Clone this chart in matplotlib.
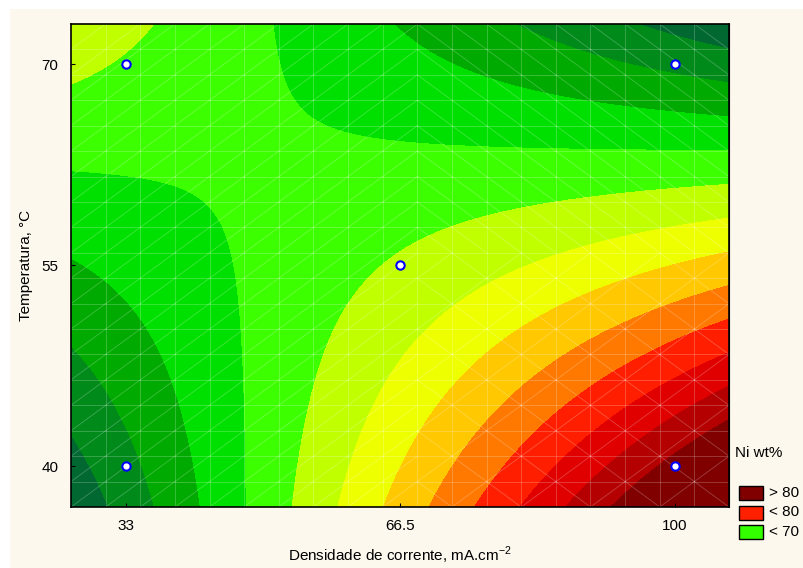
import numpy as np
import matplotlib
matplotlib.use("Agg")
import matplotlib.pyplot as plt
from matplotlib.colors import ListedColormap, BoundaryNorm
from matplotlib.patches import Rectangle

plt.rcParams["font.family"] = ["Liberation Sans", "DejaVu Sans"]
plt.rcParams["mathtext.fontset"] = "custom"
plt.rcParams["mathtext.rm"] = "Liberation Sans"

# design points (current density, temperature)
current_density = [33, 33, 66.5, 100, 100]
temperature = [40, 70, 55, 40, 70]

# fitted response surface for Ni wt%, coded units u=(x-66.5)/33.5, v=(y-55)/15
# terms: 1, u, v, uv, u^2, v^2
surface_coef = [66.25, 3.733, -3.688, -6.895, 0.049, 0.039]

levels = [58, 60, 62, 64, 66, 68, 70, 72, 74, 76, 78, 80]
band_colors = ["#006830", "#008a1a", "#00aa00", "#00e000", "#3cff00", "#c0ff00",
               "#eeff00", "#ffc800", "#ff7800", "#ff1e00", "#e00000", "#b40000", "#800000"]

legend_labels = ["> 80", "< 80", "< 70"]
legend_colors = ["#800000", "#ff2000", "#33ff00"]

xlim = (26.29, 106.6)
ylim = (36.94, 72.99)

fig = plt.figure(figsize=(8.04, 5.68), dpi=100)
fig.patch.set_facecolor("white")
fig.patches.append(Rectangle((10 / 804, 0), 1, 1 - 9 / 568, transform=fig.transFigure,
                             facecolor="#fdf8ee", edgecolor="none", zorder=-10))
ax = fig.add_axes([71 / 804, 1 - 507 / 568, (729 - 71) / 804, (507 - 24) / 568])

gx = np.linspace(*xlim, 400)
gy = np.linspace(*ylim, 400)
X, Y = np.meshgrid(gx, gy)
U = (X - 66.5) / 33.5
V = (Y - 55) / 15
b = surface_coef
Z = b[0] + b[1] * U + b[2] * V + b[3] * U * V + b[4] * U**2 + b[5] * V**2

cmap = ListedColormap(band_colors)
bounds = [-1e9] + levels + [1e9]
norm = BoundaryNorm(bounds, cmap.N)
ax.contourf(X, Y, Z, levels=bounds, cmap=cmap, norm=norm)

# faint triangle mesh of the surface grid
nx = np.linspace(*xlim, 20)
ny = np.linspace(*ylim, 20)
mesh = dict(color="white", alpha=0.22, lw=0.7, zorder=2)
for xv in nx[1:-1]:
    ax.plot([xv, xv], ylim, **mesh)
for yv in ny[1:-1]:
    ax.plot(xlim, [yv, yv], **mesh)
for i in range(19):
    for j in range(19):
        x0, x1, y0, y1 = nx[i], nx[i + 1], ny[j], ny[j + 1]
        if i < 10:
            ax.plot([x0, x1], [y0, y1], **mesh)
        elif j >= 10:
            ax.plot([x0, x1], [y1, y0], **mesh)
        elif (i + j) % 2:
            ax.plot([x0, x1], [y0, y1], **mesh)
        else:
            ax.plot([x0, x1], [y1, y0], **mesh)

ax.scatter(current_density, temperature, s=36, facecolor="white", edgecolor="#0000ff",
           linewidth=1.5, zorder=5)

ax.set_xlim(*xlim)
ax.set_ylim(*ylim)
ax.set_xticks([33, 66.5, 100])
ax.set_xticklabels(["33", "66.5", "100"])
ax.set_yticks([40, 55, 70])
ax.tick_params(direction="in", length=3, labelsize=11, pad=9, top=False, right=False)
for s in ax.spines.values():
    s.set_linewidth(1.2)

top = ax.secondary_xaxis("top")
top.set_xticks([33 + 6.7 * k for k in range(11)])
top.tick_params(direction="in", length=3, labeltop=False)
right = ax.secondary_yaxis("right")
right.set_yticks([40 + 3 * k for k in range(11)])
right.tick_params(direction="in", length=3, labelright=False)

ax.set_xlabel("Densidade de corrente, mA.cm$^{-2}$", fontsize=11, labelpad=8)
ax.set_ylabel("Temperatura, °C", fontsize=11, labelpad=6)

fig.text(735 / 804, 1 - 453 / 568, "Ni wt%", fontsize=11, va="center")
for k, (lab, col) in enumerate(zip(legend_labels, legend_colors)):
    yc = 493 + 19.5 * k
    fig.patches.append(Rectangle((739 / 804, 1 - (yc + 7) / 568), 24 / 804, 14 / 568,
                                 transform=fig.transFigure, facecolor=col,
                                 edgecolor="black", lw=1))
    fig.text(769 / 804, 1 - yc / 568, lab, fontsize=11, va="center")

fig.savefig("out.png", dpi=100, facecolor=fig.get_facecolor())
